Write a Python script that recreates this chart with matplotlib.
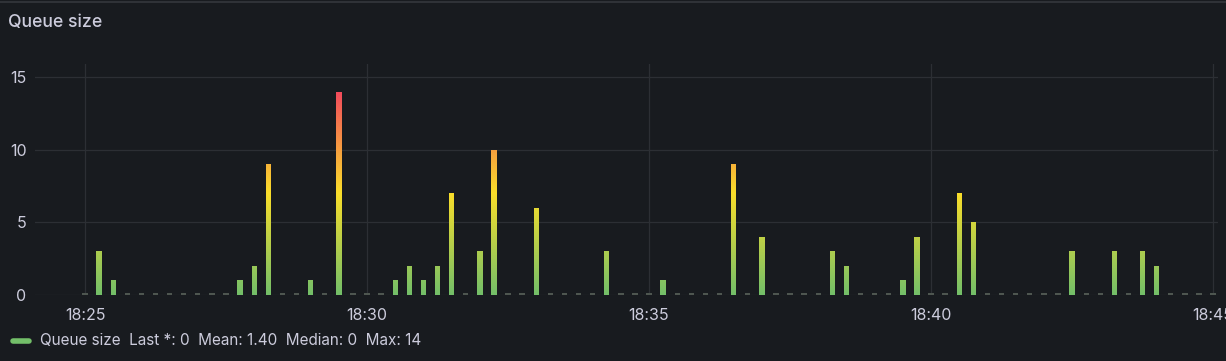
import matplotlib
matplotlib.use("Agg")
import matplotlib.dates as mdates
import matplotlib.pyplot as plt
import numpy as np
import pandas as pd
from matplotlib.colors import LinearSegmentedColormap
from matplotlib.lines import Line2D
from matplotlib.path import Path

plt.rcParams['font.family'] = ['Inter', 'DejaVu Sans']

# 15 s samples from 18:25 to 18:45
times = pd.date_range('2024-01-01 18:25:00', '2024-01-01 18:45:00', freq='15s')
queue_size = [0, 3, 1, 0, 0, 0, 0, 0, 0, 0,
              0, 1, 2, 9, 0, 0, 1, 0, 14, 0,
              0, 0, 1, 2, 1, 2, 7, 0, 3, 10,
              0, 0, 6, 0, 0, 0, 0, 3, 0, 0,
              0, 1, 0, 0, 0, 0, 9, 0, 4, 0,
              0, 0, 0, 3, 2, 0, 0, 0, 1, 4,
              0, 0, 7, 5, 0, 0, 0, 0, 0, 0,
              3, 0, 0, 3, 0, 3, 2, 0, 0, 0,
              0]
series_name = 'Queue size'
scheme = ['#73BF69', '#FADE2A', '#F2495C']

bg = '#181b1f'
text_col = '#ccccdc'
grid_col = '#2c2f34'

vals = np.array(queue_size, dtype=float)
xnum = mdates.date2num(times.to_pydatetime())
step = xnum[1] - xnum[0]

fig = plt.figure(figsize=(12.26, 3.61), dpi=100, facecolor=bg)
ax = fig.add_axes([0.0285, 0.1828, 0.965, 0.64], facecolor=bg)

xmin = xnum[0] - 3.55 * step
xmax = xnum[-1] + 0.35 * step

# bars with a vertical green-yellow-red gradient by value
width = 0.38 * step
nonzero = vals > 0
bars = ax.bar(xnum[nonzero], vals[nonzero], width=width, color='none',
              edgecolor='none', zorder=3)
path = Path.make_compound_path(
    *[b.get_path().transformed(b.get_patch_transform()) for b in bars])
cmap = LinearSegmentedColormap.from_list('gyr', scheme)
grad = np.linspace(0, 1, 256).reshape(-1, 1)
im = ax.imshow(grad, cmap=cmap, origin='lower', aspect='auto',
               extent=[xmin, xmax, 0, vals.max()], zorder=3,
               interpolation='bilinear')
im.set_clip_path(path, transform=ax.transData)
ax.set_xlim(xmin, xmax)
ax.set_ylim(0, 15.9)

# zero values drawn as small stubs
ax.bar(xnum[~nonzero], np.full((~nonzero).sum(), 0.13), width=width,
       color='#4e5650', edgecolor='none', zorder=3)

ax.xaxis.set_major_locator(mdates.MinuteLocator(byminute=range(0, 60, 5)))
ax.xaxis.set_major_formatter(mdates.DateFormatter('%H:%M'))
ax.set_yticks([0, 5, 10, 15])
ax.grid(True, color=grid_col, linewidth=0.9, zorder=0)
ax.tick_params(colors=text_col, labelsize=11.5, length=0, pad=6)
ax.tick_params(axis='x', pad=9)
for lab in ax.get_xticklabels() + ax.get_yticklabels():
    lab.set_color(text_col)
for s in ax.spines.values():
    s.set_visible(False)

fig.text(0.0065, 0.937, series_name, color=text_col, fontsize=12.7,
         fontweight='medium', va='center', ha='left')
fig.add_artist(Line2D([0, 1], [0.994, 0.994], transform=fig.transFigure,
                      color='#34373d', linewidth=1.2))

mean = vals.mean()
median = np.median(vals)
legend_txt = (f'{series_name}  Last *: {vals[-1]:.0f}  Mean: {mean:.2f}  '
              f'Median: {median:.0f}  Max: {vals.max():.0f}')
fig.add_artist(Line2D([0.0105, 0.0235], [0.0555, 0.0555],
                      transform=fig.transFigure, color=scheme[0],
                      linewidth=4, solid_capstyle='round'))
fig.text(0.0325, 0.0555, legend_txt, color=text_col, fontsize=11,
         va='center', ha='left')

fig.savefig('out.png', dpi=100, facecolor=bg)
